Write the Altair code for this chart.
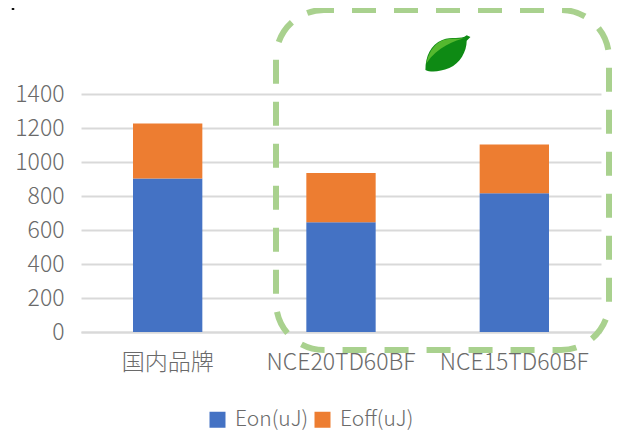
import altair as alt
import pandas as pd

categories = ["国内品牌", "NCE20TD60BF", "NCE15TD60BF"]
eon = [903, 646, 816]
eoff = [323, 290, 287]
series = ["Eon(uJ)", "Eoff(uJ)"]
colors = ["#4472C4", "#ED7D31"]
ticks = [0, 200, 400, 600, 800, 1000, 1200, 1400]

FONT = "Noto Sans CJK SC"
TEXT = "#6a6a6a"
GRID = "#D9D9D9"
GREEN = "#A9D18E"

rows = []
for c, a, b in zip(categories, eon, eoff):
    rows.append({"cat": c, "series": series[0], "order": 0, "value": a})
    rows.append({"cat": c, "series": series[1], "order": 1, "value": b})
df = pd.DataFrame(rows)

bars = alt.Chart(df).mark_bar().encode(
    x=alt.X("cat:N", sort=categories, title=None,
            scale=alt.Scale(paddingInner=0.6, paddingOuter=0.3),
            axis=alt.Axis(labelAngle=0, labelFont=FONT, labelFontSize=23, labelFontWeight=300,
                          labelColor=TEXT, labelPadding=19, ticks=False, domainColor=GRID,
                          domainWidth=2, labelLimit=200)),
    y=alt.Y("value:Q", stack="zero", title=None,
            scale=alt.Scale(domain=[0, 1400], nice=False),
            axis=alt.Axis(values=ticks, format="d", labelFont=FONT, labelFontSize=23, labelFontWeight=300,
                          labelColor=TEXT, labelPadding=17, ticks=False, domain=False,
                          gridColor=GRID, gridWidth=2, grid=True)),
    color=alt.Color("series:N", sort=series,
                    scale=alt.Scale(domain=series, range=colors),
                    legend=alt.Legend(title=None, orient="none", legendX=126, legendY=315,
                                      direction="horizontal", symbolType="square", symbolSize=256,
                                      symbolStrokeWidth=0, labelFont=FONT, labelFontSize=21,
                                      labelFontWeight=300, labelColor=TEXT, columnPadding=3,
                                      labelOffset=7, labelLimit=200)),
    order=alt.Order("order:Q"),
)

one = alt.Data(values=[{"k": 1}])

box = alt.Chart(one).mark_rect(
    fill=None, stroke=GREEN, strokeWidth=6, strokeDash=[24, 18], strokeDashOffset=14,
    cornerRadius=48, clip=False,
).encode(x=alt.value(195), x2=alt.value(528), y=alt.value(-84), y2=alt.value(256))

leaf_body = "M-0.46 0.34 C-0.46 0.05 -0.35 -0.2 -0.1 -0.3 C0.1 -0.38 0.3 -0.3 0.42 -0.4 L0.5 -0.36 L0.42 -0.28 C0.42 -0.05 0.28 0.2 0.05 0.3 C-0.15 0.38 -0.35 0.4 -0.46 0.34 Z"
leaf_top = "M-0.44 0.2 C-0.4 0.0 -0.3 -0.2 -0.1 -0.29 C0.1 -0.36 0.3 -0.3 0.42 -0.35 C0.15 -0.28 -0.2 -0.15 -0.44 0.2 Z"
leaf_b = alt.Chart(one).mark_point(shape=leaf_body, filled=True, color="#0E8A14", opacity=1, size=8800, clip=False).encode(
    x=alt.value(366), y=alt.value(-40))
leaf_t = alt.Chart(one).mark_point(shape=leaf_top, filled=True, color="#55B82F", opacity=1, size=8800, clip=False).encode(
    x=alt.value(366), y=alt.value(-40))

arrow = alt.Chart(one).mark_point(shape="M-0.5 0 L0.5 -0.5 L0.5 0.5 Z", filled=True, color="#4472C4", opacity=1, size=900, clip=False).encode(
    x=alt.value(546), y=alt.value(-10))

tick = alt.Chart(one).mark_rule(color="#111111", strokeWidth=2.5, clip=False).encode(
    x=alt.value(-68), y=alt.value(-90), y2=alt.value(-84))

chart = alt.layer(bars, box, leaf_b, leaf_t, arrow, tick).properties(
    width=520, height=238,
    padding={"left": 73, "top": 86, "right": 12, "bottom": 98},
    autosize=alt.AutoSizeParams(type="none"),
    background="white",
).configure_view(stroke=None)

chart.save("out.html", embed_options={"renderer": "svg", "actions": False})
